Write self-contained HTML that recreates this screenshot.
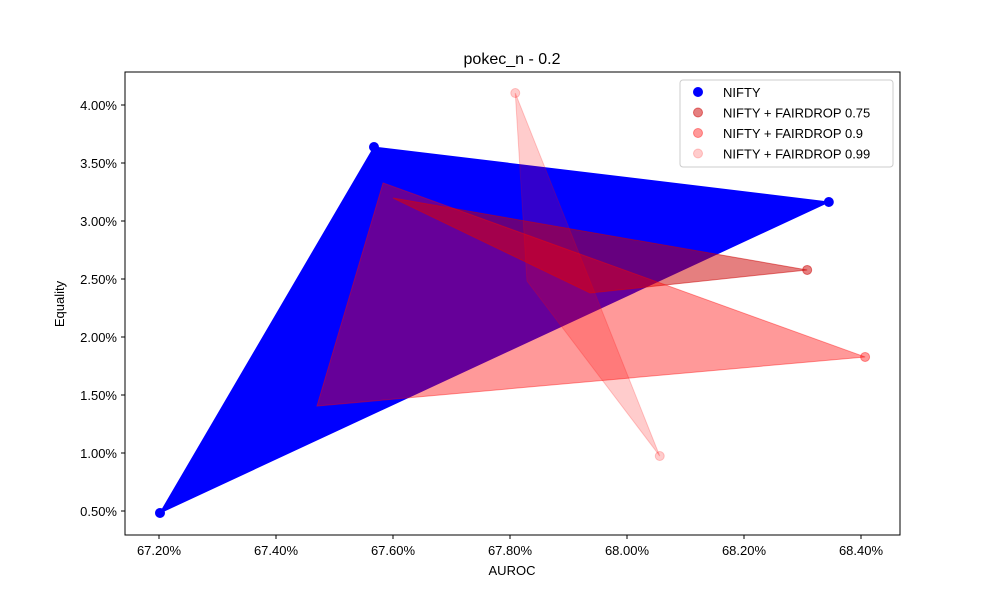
<!DOCTYPE html>
<html><head><meta charset="utf-8"><style>
body{margin:0;background:#fff;font-family:"Liberation Sans",sans-serif}
</style></head><body>
<svg id="chart" width="1000" height="600" xmlns="http://www.w3.org/2000/svg" font-family="Liberation Sans, sans-serif">
<rect width="1000" height="600" fill="#fff"/>
<text x="512" y="64" text-anchor="middle" font-size="16">pokec_n - 0.2</text>
<text x="512" y="575" text-anchor="middle" font-size="13">AUROC</text>
<text x="64" y="304" text-anchor="middle" font-size="13" transform="rotate(-90 64 304)">Equality</text>
<g id="plot"></g>
<rect x="125" y="72" width="775" height="463" fill="none" stroke="#000" stroke-width="1"/>
<g id="legend"></g>
</svg>
<script>
const seriesNames = ["NIFTY","NIFTY + FAIRDROP 0.75","NIFTY + FAIRDROP 0.9","NIFTY + FAIRDROP 0.99"];
const polyX = [[67.2017,67.5675,68.345],[67.600,67.937,68.308],[67.583,67.470,68.407],[67.809,67.829,68.056]];
const polyY = [[0.483,3.638,3.164],[3.198,2.379,2.578],[3.328,1.405,1.828],[4.103,2.483,0.974]];
const markX = [[67.2017,67.5675,68.345],[68.308],[68.407],[67.809,68.056]];
const markY = [[0.483,3.638,3.164],[2.578],[1.828],[4.103,0.974]];
const xTicks = [67.2,67.4,67.6,67.8,68.0,68.2,68.4];
const yTicks = [0.5,1.0,1.5,2.0,2.5,3.0,3.5,4.0];
const fills = ["#0000ff","#cc0000","#ff0000","#ff0000"];
const alphas = [1,0.5,0.4,0.2];
const markAlpha = [1,0.5,0.4,0.2];

const X = v => 159 + (v-67.2)*585;
const Y = v => 511 - (v-0.5)*116;
const NS = "http://www.w3.org/2000/svg";
const svg = document.getElementById('chart');
const plot = document.getElementById('plot');
function mk(t, attrs, parent){const e=document.createElementNS(NS,t);for(const k in attrs)e.setAttribute(k,attrs[k]);(parent||svg).appendChild(e);return e;}

xTicks.forEach(v=>{
  const x=X(v);
  const t=mk('line',{x1:x,x2:x,y1:535,y2:539,stroke:'#000'});
  
  
  const l=mk('text',{x:x,y:555,'text-anchor':'middle','font-size':13});
  l.textContent=v.toFixed(2)+'%';
  
  
});
yTicks.forEach(v=>{
  const y=Y(v);
  const t=mk('line',{x1:121,x2:125,y1:y,y2:y,stroke:'#000'});
  
  
  const l=mk('text',{x:117,y:y+5,'text-anchor':'end','font-size':13});
  l.textContent=v.toFixed(2)+'%';
  
  
});

seriesNames.forEach((n,i)=>{
  const pts=polyX[i].map((x,j)=>X(x)+','+Y(polyY[i][j])).join(' ');
  const p=mk('polygon',{points:pts,fill:fills[i],'fill-opacity':alphas[i],stroke:fills[i],'stroke-opacity':alphas[i],'stroke-width':1},plot);
  
  
});
seriesNames.forEach((n,i)=>{
  markX[i].forEach((x,j)=>{
    const c=mk('circle',{cx:X(x),cy:Y(markY[i][j]),r:4.5,fill:fills[i],'fill-opacity':markAlpha[i],stroke:fills[i],'stroke-opacity':markAlpha[i]},plot);
    
    
  });
});

const lg=document.getElementById('legend');
const box=mk('rect',{x:680,y:80,width:213,height:87,fill:'#fff',stroke:'#ccc',rx:3},lg);


seriesNames.forEach((n,i)=>{
  const y=92+i*20.5;
  const c=mk('circle',{cx:698,cy:y,r:4.5,fill:fills[i],'fill-opacity':markAlpha[i],stroke:fills[i],'stroke-opacity':markAlpha[i]},lg);
  
  
  const t=mk('text',{x:723,y:y+5,'font-size':13},lg);
  t.textContent=n;
  
  
});
</script>
</body></html>
